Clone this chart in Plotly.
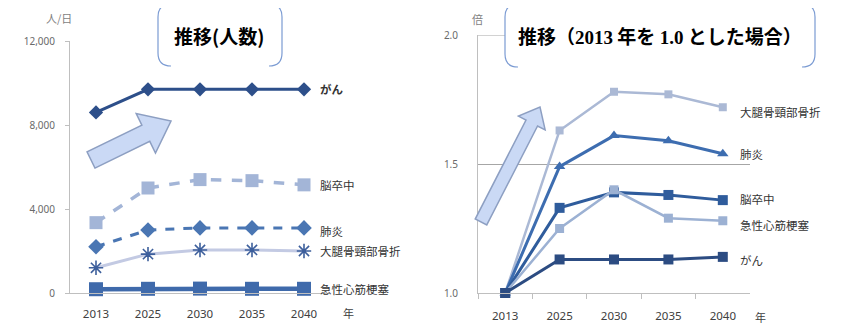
import math
import plotly.graph_objects as go

# page has an 8px body margin; the figure is placed at (8, 8)
OX, OY = 8, 8
W, H = 855 - OX, 324 - OY

years = ["2013", "2025", "2030", "2035", "2040"]

# Left chart: number of patients per day
left_names = ["がん", "脳卒中", "肺炎", "大腿骨頸部骨折", "急性心筋梗塞"]
left_gan = [8600, 9700, 9700, 9700, 9700]
left_nousotchu = [3350, 5000, 5400, 5350, 5150]
left_haien = [2200, 3000, 3100, 3100, 3100]
left_daitai = [1200, 1850, 2050, 2050, 2000]
left_kyusei = [180, 200, 210, 200, 200]

# Right chart: ratio with 2013 = 1.0
right_names = ["大腿骨頸部骨折", "肺炎", "脳卒中", "急性心筋梗塞", "がん"]
right_daitai = [1.0, 1.63, 1.78, 1.77, 1.72]
right_haien = [1.0, 1.49, 1.61, 1.59, 1.54]
right_nousotchu = [1.0, 1.33, 1.39, 1.38, 1.36]
right_kyusei = [1.0, 1.25, 1.40, 1.29, 1.28]
right_gan = [1.0, 1.13, 1.13, 1.13, 1.14]

left_ticks = [0, 4000, 8000, 12000]
left_ticktext = ["0", "4,000", "8,000", "12,000"]
right_ticks = [1.0, 1.5, 2.0]
right_ticktext = ["1.0", "1.5", "2.0"]


def px(x):
    return (x - OX) / W


def py(y):
    return 1 - (y - OY) / H


fig = go.Figure()

left_styles = [
    (left_gan, dict(color="#2d4f8a", width=3), dict(symbol="diamond", size=11, color="#2d4f8a")),
    (left_nousotchu, dict(color="#a3b5d7", width=3.5, dash="dash"), dict(symbol="square", size=13, color="#a3b5d7")),
    (left_haien, dict(color="#4a76b3", width=3, dash="dash"), dict(symbol="diamond", size=12, color="#4a76b3")),
    (left_daitai, dict(color="#c3cae3", width=3), dict(symbol="asterisk-open", size=12, color="#3d5f9c",
                                                        line=dict(color="#3d5f9c", width=1.6))),
    (left_kyusei, dict(color="#3f6aab", width=4.5), dict(symbol="square", size=14, color="#3f6aab")),
]
for name, (vals, line, marker) in zip(left_names, left_styles):
    fig.add_trace(go.Scatter(x=years, y=vals, name=name, mode="lines+markers", line=line,
                             marker=marker, xaxis="x", yaxis="y", cliponaxis=False,
                             showlegend=False))

right_styles = [
    (right_daitai, dict(color="#abb9d5", width=2.5), dict(symbol="square", size=8, color="#abb9d5")),
    (right_haien, dict(color="#3d6db0", width=3), dict(symbol="triangle-up", size=10, color="#3d6db0")),
    (right_nousotchu, dict(color="#2f5c9c", width=3), dict(symbol="square", size=10, color="#2f5c9c")),
    (right_kyusei, dict(color="#9cb1d3", width=2.5), dict(symbol="square", size=9, color="#9cb1d3")),
    (right_gan, dict(color="#2c4c82", width=3), dict(symbol="square", size=10, color="#2c4c82")),
]
for name, (vals, line, marker) in zip(right_names, right_styles):
    fig.add_trace(go.Scatter(x=years, y=vals, name=name, mode="lines+markers", line=line,
                             marker=marker, xaxis="x2", yaxis="y2", cliponaxis=False,
                             showlegend=False))

tickfont_x = dict(family="Noto Sans", size=11.5, color="#404040")
tickfont_y = dict(family="Noto Sans", size=10, color="#6a6a6a")

fig.update_layout(
    template="none",
    width=W, height=H, margin=dict(l=0, r=0, t=0, b=0, autoexpand=False),
    paper_bgcolor="white", plot_bgcolor="rgba(0,0,0,0)",
    xaxis=dict(domain=[px(70), px(330)], type="category", range=[-0.5, 4.5], automargin=False,
               showline=True, linecolor="#bfbfbf", linewidth=1, ticks="", showgrid=False,
               tickfont=tickfont_x, ticklabelstandoff=10, anchor="y"),
    yaxis=dict(domain=[py(293), py(41)], range=[0, 12000], tickvals=left_ticks, automargin=False,
               ticktext=left_ticktext, showline=True, linecolor="#bfbfbf", linewidth=1,
               ticks="outside", ticklen=4, tickcolor="#bfbfbf", showgrid=False, zeroline=False,
               tickfont=tickfont_y, ticklabelstandoff=8, anchor="x"),
    xaxis2=dict(domain=[px(478), px(750)], type="category", range=[-0.5, 4.5], automargin=False,
                showline=True, linecolor="#bfbfbf", linewidth=1, ticks="outside",
                tickson="boundaries", ticklen=5, tickcolor="#bfbfbf", showgrid=False,
                tickfont=tickfont_x, ticklabelstandoff=12, anchor="y2"),
    yaxis2=dict(domain=[py(293), py(35)], range=[1.0, 2.0], tickvals=right_ticks, automargin=False,
                ticktext=right_ticktext, showline=True, linecolor="#bfbfbf", linewidth=1,
                ticks="", showgrid=True, gridcolor="#a6a6a6", gridwidth=1, zeroline=False,
                tickfont=tickfont_y, ticklabelstandoff=17, anchor="x2"),
)

annotations = []
# series labels at the end of each line
left_last = [v[-1] for v, _, _ in left_styles]
left_shift = [0, 0, -3, 0, 0]
for name, v, s in zip(left_names, left_last, left_shift):
    txt = "<b>" + name + "</b>" if name == "がん" else name
    annotations.append(dict(x=4, y=v, xref="x", yref="y", text=txt, showarrow=False,
                            xanchor="left", yanchor="middle", xshift=14, yshift=s,
                            font=dict(family="Noto Sans CJK JP", size=11.5, color="#333333")))
right_last = [v[-1] for v, _, _ in right_styles]
right_shift = [-5, 0, 1, -4, -3]
for name, v, s in zip(right_names, right_last, right_shift):
    annotations.append(dict(x=4, y=v, xref="x2", yref="y2", text=name, showarrow=False,
                            xanchor="left", yanchor="middle", xshift=15, yshift=s,
                            font=dict(family="Noto Sans CJK JP", size=11.5, color="#333333")))


def label(x, y, text, size, color):
    annotations.append(dict(x=px(x), y=py(y), xref="paper", yref="paper", text=text,
                            showarrow=False, xanchor="center", yanchor="middle",
                            font=dict(family="Noto Sans CJK JP", size=size, color=color)))


# unit labels
label(59, 18, "人/日", 11, "#7f7f7f")
label(477, 19, "倍", 11, "#7f7f7f")
label(348, 313, "年", 11, "#404040")
label(760, 317, "年", 11, "#404040")

shapes = []

# top gridline of the right chart (value 2.0)
shapes.append(dict(type="line", xref="x2 domain", yref="y2", x0=0, x1=1, y0=right_ticks[-1],
                   y1=right_ticks[-1], line=dict(color="#a6a6a6", width=1), layer="below"))


def bracket_box(x0, y0, x1, y1, r):
    shapes.append(dict(type="rect", xref="paper", yref="paper", x0=px(x0), x1=px(x1),
                       y0=py(y1), y1=py(y0), fillcolor="white", line=dict(width=0), layer="above"))
    left = (f"M {px(x0 + r)},{py(y0)} Q {px(x0)},{py(y0)} {px(x0)},{py(y0 + r)} "
            f"L {px(x0)},{py(y1 - r)} Q {px(x0)},{py(y1)} {px(x0 + r)},{py(y1)}")
    right = (f"M {px(x1 - r)},{py(y0)} Q {px(x1)},{py(y0)} {px(x1)},{py(y0 + r)} "
             f"L {px(x1)},{py(y1 - r)} Q {px(x1)},{py(y1)} {px(x1 - r)},{py(y1)}")
    for p in (left, right):
        shapes.append(dict(type="path", xref="paper", yref="paper", path=p,
                           line=dict(color="#7b9bd3", width=1.2), layer="above"))


bracket_box(158, 4, 282, 66, 13)
bracket_box(505, 4, 815, 67, 13)

# titles
label(219, 35, "<b>推移(人数)</b>", 19, "#000000")
serif = "<span style='font-family:Liberation Serif'>"
label(660, 35, "<b>推移（" + serif + "2013</span> 年を " + serif + "1.0</span> とした場合）</b>",
      19, "#000000")


def block_arrow(tail, tip, shaft_hw, head_hw, head_len):
    dx, dy = tip[0] - tail[0], tip[1] - tail[1]
    L = math.hypot(dx, dy)
    ux, uy = dx / L, dy / L
    nx, ny = -uy, ux
    bx, by = tip[0] - head_len * ux, tip[1] - head_len * uy
    pts = [
        (tail[0] + shaft_hw * nx, tail[1] + shaft_hw * ny),
        (bx + shaft_hw * nx, by + shaft_hw * ny),
        (bx + head_hw * nx, by + head_hw * ny),
        tip,
        (bx - head_hw * nx, by - head_hw * ny),
        (bx - shaft_hw * nx, by - shaft_hw * ny),
        (tail[0] - shaft_hw * nx, tail[1] - shaft_hw * ny),
    ]
    path = "M " + " L ".join(f"{px(x)},{py(y)}" for x, y in pts) + " Z"
    shapes.append(dict(type="path", xref="paper", yref="paper", path=path,
                       fillcolor="#cad9f5", line=dict(color="#8d9fc2", width=1.5), layer="above"))


block_arrow((91, 160), (171, 121), 9, 22, 28)
block_arrow((481, 222), (540, 107), 6.5, 15, 18)

fig.update_layout(annotations=annotations, shapes=shapes)

fig.write_html("out.html")
